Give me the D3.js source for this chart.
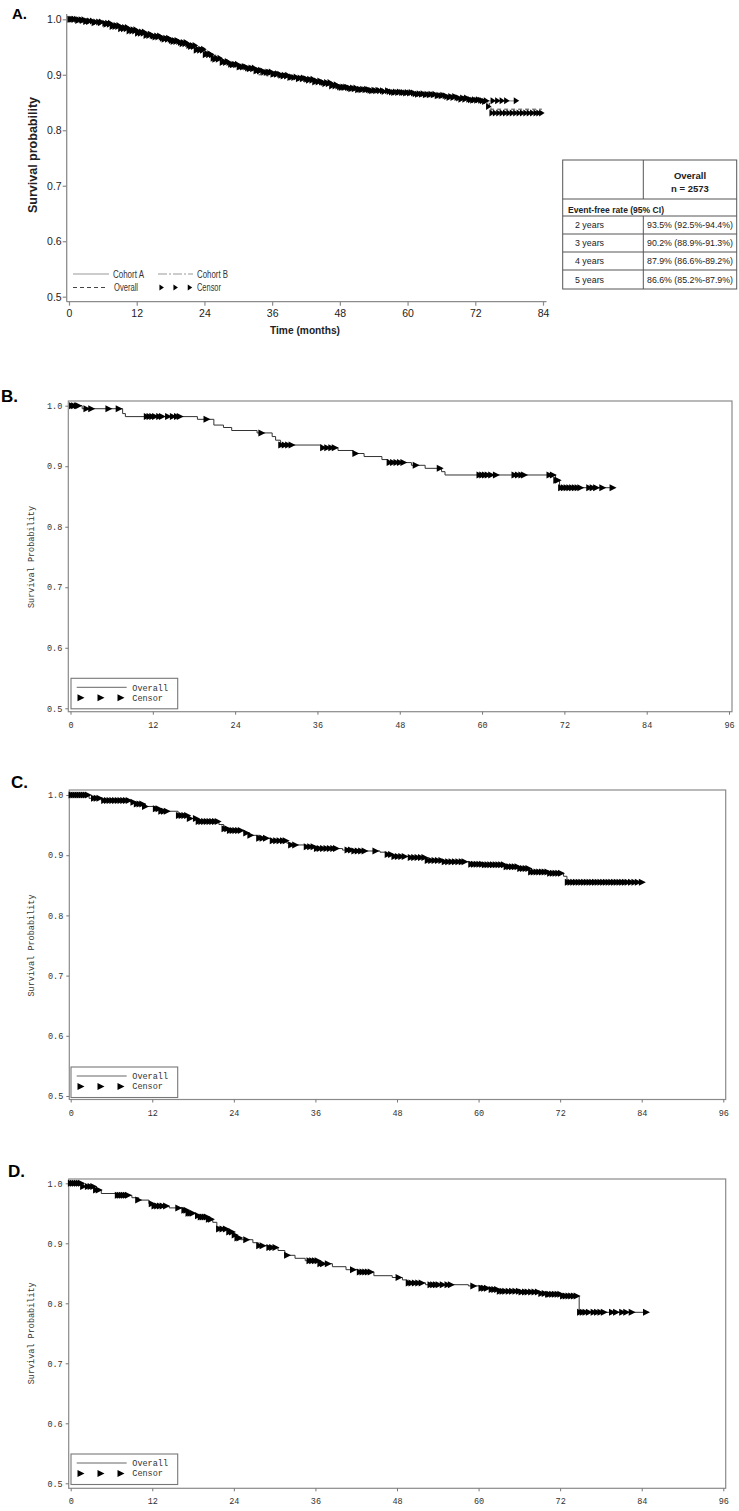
<!DOCTYPE html>
<html>
<head>
<meta charset="utf-8">
<script src="https://cdn.jsdelivr.net/npm/d3@7"></script>
<style>
  body { margin: 0; background: #fff; }
</style>
</head>
<body>
<svg id="fig" width="739" height="1511"></svg>
<script>
// ---- data ----

const yTicks = [0.5, 0.6, 0.7, 0.8, 0.9, 1.0];
const xTicksA = [0, 12, 24, 36, 48, 60, 72, 84];
const xTicksKM = [0, 12, 24, 36, 48, 60, 72, 84, 96];

// Panel A: three near-identical step curves
const cohortATimes = [0, 1.5, 3, 4.5, 6, 7.5, 9, 10.5, 12, 13.5, 15, 16.5, 18, 19.5, 21, 22.5, 24, 25.5, 27, 28.5, 30, 31.5, 33, 34.5, 36, 37.5, 39, 40.5, 42, 43.5, 45, 46.5, 48, 49.5, 51, 53, 55, 57, 59, 61, 63, 65, 67, 69, 71, 73];
const cohortASurv = [1.0, 0.999, 0.997, 0.995, 0.993, 0.989, 0.985, 0.981, 0.977, 0.973, 0.970, 0.966, 0.962, 0.958, 0.953, 0.946, 0.938, 0.930, 0.924, 0.919, 0.915, 0.912, 0.908, 0.905, 0.902, 0.899, 0.896, 0.894, 0.892, 0.889, 0.886, 0.882, 0.878, 0.876, 0.874, 0.872, 0.871, 0.869, 0.868, 0.866, 0.865, 0.863, 0.861, 0.858, 0.855, 0.853];
const cohortAEnd = 79.3;
const cohortACensor = [0.2, 0.6, 1.0, 1.4, 1.8, 2.2, 2.7, 3.2, 3.7, 4.2, 4.8, 5.3, 5.8, 6.4, 6.9, 7.4, 7.9, 8.4, 8.9, 9.4, 9.9, 10.4, 10.9, 11.4, 11.9, 12.4, 12.9, 13.4, 13.9, 14.5, 15.0, 15.6, 16.1, 16.6, 17.2, 17.7, 18.2, 18.7, 19.2, 19.8, 20.3, 20.8, 21.3, 21.9, 22.4, 22.9, 23.4, 23.9, 24.5, 25.0, 25.6, 26.2, 26.8, 27.5, 28.1, 28.7, 29.3, 29.9, 30.5, 31.1, 31.7, 32.3, 32.9, 33.5, 34.0, 34.6, 35.3, 35.9, 36.4, 37.0, 37.6, 38.2, 38.8, 39.5, 40.3, 41.0, 41.6, 42.2, 42.7, 43.3, 43.9, 44.5, 45.1, 45.7, 46.3, 46.9, 47.4, 48.0, 48.6, 49.1, 49.7, 50.3, 50.9, 51.5, 52.1, 52.8, 53.4, 54.1, 54.8, 55.6, 56.5, 57.2, 57.9, 58.6, 59.3, 60.0, 60.7, 61.4, 62.1, 62.8, 63.5, 64.2, 64.9, 65.6, 66.3, 67.0, 67.7, 68.4, 69.1, 69.8, 70.5, 71.2, 71.9, 72.6, 73.3, 74.0, 75.2, 76.0, 76.8, 77.6, 79.3];

const cohortBTimes = [0, 1.2, 2.8, 4.4, 6.2, 7.6, 9.2, 10.6, 12.2, 13.6, 15.2, 16.6, 18.2, 19.6, 21.2, 22.6, 24.2, 25.6, 27.2, 28.6, 30.2, 31.6, 33.2, 34.6, 36.2, 37.6, 39.2, 40.6, 42.2, 43.6, 45.2, 46.6, 48.2, 49.6, 51.2, 53.2, 55.2, 57.2, 59.2, 61.2, 63.2, 65.2, 67.2, 69.2, 71.2, 73.2, 74.2, 74.8];
const cohortBSurv = [1.0, 0.998, 0.996, 0.994, 0.991, 0.987, 0.983, 0.979, 0.975, 0.971, 0.968, 0.964, 0.960, 0.956, 0.951, 0.944, 0.936, 0.928, 0.922, 0.918, 0.914, 0.911, 0.907, 0.904, 0.901, 0.898, 0.895, 0.893, 0.890, 0.887, 0.884, 0.880, 0.877, 0.875, 0.873, 0.871, 0.870, 0.868, 0.867, 0.865, 0.864, 0.862, 0.859, 0.856, 0.854, 0.852, 0.843, 0.831];
const cohortBEnd = 83.8;
const cohortBCensor = [0.4, 0.9, 1.6, 2.4, 3.0, 3.5, 4.5, 5.6, 6.6, 7.2, 7.7, 8.2, 8.7, 9.2, 9.7, 10.2, 10.7, 11.2, 11.7, 12.2, 12.7, 13.2, 13.7, 14.2, 14.8, 15.3, 15.8, 16.4, 16.9, 17.5, 18.0, 18.5, 19.0, 19.5, 20.1, 20.6, 21.1, 21.6, 22.1, 22.6, 23.2, 23.7, 24.2, 24.8, 25.3, 25.9, 26.5, 27.2, 27.8, 28.4, 29.0, 29.6, 30.2, 30.8, 31.4, 32.0, 32.6, 33.2, 33.8, 34.4, 35.0, 35.6, 36.2, 36.8, 37.4, 38.0, 38.6, 39.2, 39.9, 40.7, 41.4, 42.0, 42.5, 43.1, 43.6, 44.2, 44.8, 45.4, 46.0, 46.6, 47.2, 47.7, 48.3, 48.8, 49.4, 50.0, 50.6, 51.2, 51.8, 52.5, 53.1, 53.7, 54.4, 55.1, 55.9, 56.8, 57.6, 58.3, 59.0, 59.7, 60.4, 61.1, 61.8, 62.5, 63.2, 63.9, 64.6, 65.3, 66.0, 66.7, 67.4, 68.1, 68.8, 69.5, 70.2, 70.9, 71.6, 72.3, 73.0, 73.7, 74.4, 75.0, 75.6, 76.2, 76.8, 77.4, 78.0, 78.6, 79.2, 79.8, 80.4, 81.0, 81.6, 82.2, 82.8, 83.3, 83.8];

const overallATimes = [0, 2, 4, 6, 8, 10, 12, 14, 16, 18, 20, 22, 24, 26, 28, 30, 32, 33.5, 35, 37, 39, 41, 43, 44.5, 46, 48, 50, 52, 55, 58, 61, 64, 67, 70, 72.5, 74.5];
const overallASurv = [1.0, 0.998, 0.995, 0.992, 0.988, 0.983, 0.977, 0.972, 0.967, 0.961, 0.955, 0.948, 0.937, 0.927, 0.920, 0.914, 0.909, 0.900, 0.898, 0.896, 0.894, 0.891, 0.888, 0.883, 0.880, 0.877, 0.874, 0.872, 0.870, 0.868, 0.866, 0.864, 0.861, 0.857, 0.853, 0.838];
const overallAEnd = 83.8;

// Event-free rate table
const tableHeader = ["Overall", "n = 2573"];
const tableSection = "Event-free rate (95% CI)";
const tableYears = ["2 years", "3 years", "4 years", "5 years"];
const tableRates = ["93.5% (92.5%-94.4%)", "90.2% (88.9%-91.3%)", "87.9% (86.6%-89.2%)", "86.6% (85.2%-87.9%)"];

// Panel B
const bTimes = [0, 1.7, 7.6, 8.0, 18.5, 20.9, 22.3, 23.5, 27.2, 29.4, 29.9, 30.6, 36.6, 39.0, 41.2, 42.8, 45.4, 46.3, 49.7, 51.7, 54.1, 54.6, 70.7, 71.3];
const bSurv = [1.0, 0.995, 0.987, 0.982, 0.9775, 0.968, 0.964, 0.959, 0.955, 0.949, 0.943, 0.935, 0.9305, 0.926, 0.921, 0.916, 0.911, 0.906, 0.9015, 0.8965, 0.891, 0.8855, 0.877, 0.8645];
const bEnd = 79.1;
const bCensor = [0.3, 0.6, 1.0, 1.2, 2.4, 3.1, 5.6, 7.1, 11.2, 11.6, 12.0, 12.4, 13.0, 13.4, 14.3, 15.0, 15.6, 16.0, 19.9, 27.9, 30.8, 31.3, 31.8, 32.3, 36.9, 37.5, 38.1, 38.6, 41.6, 46.6, 47.1, 47.6, 48.1, 48.6, 50.4, 53.9, 59.7, 60.1, 60.5, 60.9, 61.4, 62.1, 64.8, 65.3, 65.8, 66.2, 69.9, 70.4, 70.9, 71.1, 71.6, 72.0, 72.4, 72.8, 73.2, 73.6, 74.0, 74.4, 75.7, 76.2, 76.7, 77.6, 79.1];

// Panel C
const cTimes = [0, 2.7, 4.5, 8.8, 9.7, 11.0, 12.5, 13.2, 15.8, 17.5, 18.8, 21.8, 22.5, 23.2, 25.5, 26.3, 27.8, 29.5, 31.8, 32.5, 34.5, 36.0, 40.0, 41.5, 45.5, 46.5, 47.5, 50.0, 52.5, 55.0, 58.8, 61.0, 64.2, 66.0, 67.8, 70.5, 72.5, 73.0];
const cSurv = [1.0, 0.9945, 0.991, 0.988, 0.985, 0.981, 0.977, 0.973, 0.966, 0.961, 0.956, 0.951, 0.944, 0.941, 0.937, 0.933, 0.928, 0.924, 0.920, 0.917, 0.914, 0.911, 0.9085, 0.907, 0.905, 0.901, 0.898, 0.896, 0.891, 0.889, 0.885, 0.884, 0.881, 0.878, 0.872, 0.870, 0.865, 0.855];
const cEnd = 84.1;
const cCensor = [0.2, 0.5, 0.8, 1.1, 1.4, 1.7, 2.0, 2.3, 2.6, 3.5, 3.9, 4.3, 5.0, 5.4, 5.8, 6.2, 6.6, 7.0, 7.4, 7.8, 8.2, 8.6, 9.3, 9.8, 10.2, 10.6, 11.0, 12.6, 13.0, 13.4, 13.8, 14.2, 16.0, 16.4, 16.8, 17.2, 17.6, 18.5, 18.9, 19.3, 19.7, 20.1, 20.5, 20.9, 21.3, 21.7, 22.7, 23.1, 23.5, 23.9, 24.3, 24.7, 25.1, 25.9, 26.5, 27.8, 28.3, 28.8, 29.8, 30.3, 30.8, 31.3, 31.7, 32.5, 33.1, 34.8, 35.3, 35.8, 36.3, 36.7, 37.2, 37.7, 38.2, 38.7, 39.1, 40.8, 41.3, 41.8, 42.3, 42.8, 43.3, 44.9, 46.7, 47.2, 47.7, 48.2, 48.7, 49.2, 50.1, 50.6, 51.1, 51.6, 52.1, 52.6, 53.1, 53.6, 54.1, 54.6, 55.1, 55.6, 56.1, 56.6, 57.1, 57.6, 58.0, 59.0, 59.4, 59.8, 60.2, 60.6, 61.0, 61.4, 61.8, 62.2, 62.6, 63.0, 63.4, 63.8, 64.2, 64.6, 65.0, 65.4, 65.8, 66.2, 66.6, 67.0, 67.4, 67.8, 68.2, 68.6, 69.0, 69.4, 69.8, 70.2, 70.6, 71.0, 71.4, 71.8, 72.2, 73.2, 73.6, 74.0, 74.4, 74.8, 75.2, 75.6, 76.0, 76.4, 76.8, 77.2, 77.6, 78.0, 78.4, 78.8, 79.2, 79.6, 80.0, 80.4, 80.8, 81.2, 81.6, 82.0, 82.5, 83.0, 83.5, 84.1];

// Panel D
const dTimes = [0, 1.9, 3.5, 4.5, 6.8, 9.0, 10.0, 11.5, 12.2, 14.5, 16.5, 17.2, 18.5, 19.2, 20.3, 20.9, 21.5, 21.9, 23.3, 23.9, 24.4, 25.0, 26.8, 27.6, 29.0, 30.5, 31.5, 33.0, 34.5, 36.6, 38.5, 40.5, 42.2, 44.6, 47.3, 48.8, 49.5, 52.2, 58.5, 60.5, 61.6, 63.0, 66.3, 69.0, 70.3, 72.4, 74.8];
const dSurv = [1.0, 0.9945, 0.989, 0.983, 0.980, 0.976, 0.972, 0.966, 0.962, 0.959, 0.955, 0.950, 0.946, 0.944, 0.940, 0.935, 0.927, 0.924, 0.919, 0.914, 0.909, 0.906, 0.901, 0.896, 0.893, 0.888, 0.880, 0.875, 0.871, 0.866, 0.861, 0.856, 0.852, 0.846, 0.843, 0.839, 0.834, 0.831, 0.829, 0.825, 0.823, 0.820, 0.819, 0.8165, 0.815, 0.812, 0.785];
const dEnd = 84.7;
const dCensor = [0.1, 0.4, 0.7, 1.0, 1.3, 1.6, 1.9, 2.6, 3.0, 3.4, 3.8, 4.2, 7.0, 7.3, 7.6, 7.9, 8.2, 8.5, 10.0, 12.0, 12.4, 12.8, 13.2, 13.6, 14.1, 15.9, 16.8, 17.1, 17.4, 17.7, 18.0, 18.8, 19.2, 19.5, 19.8, 20.1, 20.4, 20.7, 21.9, 22.4, 22.9, 23.4, 23.8, 24.2, 24.6, 24.9, 25.9, 27.8, 28.3, 29.3, 29.7, 30.2, 31.9, 35.2, 35.6, 36.0, 36.4, 36.8, 37.2, 37.9, 41.6, 42.6, 43.0, 43.4, 43.8, 44.2, 48.3, 49.8, 50.2, 50.7, 51.2, 51.7, 53.0, 53.4, 53.8, 54.2, 54.8, 55.5, 56.0, 59.3, 60.5, 60.9, 61.3, 62.0, 62.4, 62.8, 63.2, 63.6, 64.0, 64.5, 65.0, 65.5, 66.0, 66.4, 66.9, 67.3, 67.8, 68.3, 68.8, 69.3, 69.8, 70.3, 70.5, 70.9, 71.3, 71.7, 72.1, 72.5, 72.9, 73.3, 73.7, 74.1, 74.5, 75.0, 75.4, 75.8, 76.3, 77.0, 77.5, 78.0, 78.5, 79.7, 80.3, 81.2, 81.8, 82.6, 84.7];

// ---- drawing ----

const svg = d3.select("#fig");
const MONO = "'Liberation Mono', 'Courier New', monospace";
const SANS = "'Liberation Sans', Arial, sans-serif";

function tri(w, h) {
  return `M${-w / 2},${-h / 2}L${w / 2},0L${-w / 2},${h / 2}Z`;
}

// survival value of the step function at time t
function survAt(times, surv, t) {
  const i = d3.bisectRight(times, t) - 1;
  return surv[Math.max(0, i)];
}

function drawCurve(g, x, y, times, surv, end, style) {
  const pts = times.map((t, i) => [t, surv[i]]);
  pts.push([end, surv[surv.length - 1]]);
  g.append("path").datum(pts)
    .attr("fill", "none")
    .attr("stroke", style.color)
    .attr("stroke-width", style.width)
    .attr("stroke-dasharray", style.dash || null)
    .attr("d", d3.line().x(d => x(d[0])).y(d => y(d[1])).curve(d3.curveStepAfter));
}

function drawCensors(g, x, y, times, surv, censors, w, h) {
  g.append("g").selectAll("path").data(censors).join("path")
    .attr("d", tri(w, h))
    .attr("fill", "#000")
    .attr("transform", t => `translate(${x(t)},${y(survAt(times, surv, t))})`);
}

// squeeze a text to a given width (source fonts are condensed)
function fitWidth(sel, w) {
  sel.attr("textLength", w).attr("lengthAdjust", "spacingAndGlyphs");
}

// ---------- Panel A ----------
(function panelA() {
  const g = svg.append("g");
  const x = d3.scaleLinear().domain([0, 84]).range([69, 543]);
  const y = d3.scaleLinear().domain([0.5, 1]).range([296.7, 19.3]);
  const axisLeftX = 66.7, axisY = 301.7;

  g.append("text").text("A.").attr("x", 12).attr("y", 19)
    .attr("font-family", SANS).attr("font-weight", "bold").attr("font-size", "15px");

  g.append("line").attr("x1", axisLeftX).attr("x2", axisLeftX).attr("y1", 14).attr("y2", axisY)
    .attr("stroke", "#8c8c8c").attr("stroke-width", 1.3);
  g.append("line").attr("x1", axisLeftX).attr("x2", 546.5).attr("y1", axisY).attr("y2", axisY)
    .attr("stroke", "#8c8c8c").attr("stroke-width", 1.3);

  const ya = g.append("g").attr("transform", `translate(${axisLeftX},0)`)
    .call(d3.axisLeft(y).tickValues(yTicks).tickFormat(d3.format(".1f")).tickSize(4).tickPadding(1));
  const xa = g.append("g").attr("transform", `translate(0,${axisY})`)
    .call(d3.axisBottom(x).tickValues(xTicksA).tickSize(4).tickPadding(4));
  [ya, xa].forEach(a => {
    a.select(".domain").remove();
    a.selectAll("line").attr("stroke", "#8c8c8c").attr("stroke-width", 1.2);
    a.selectAll("text").attr("font-family", SANS).attr("font-size", "10.5px").attr("fill", "#222");
  });

  g.append("text").text("Survival probability")
    .attr("transform", `translate(37,155) rotate(-90)`)
    .attr("text-anchor", "middle").attr("font-family", SANS).attr("font-weight", "bold")
    .attr("font-size", "12px").attr("fill", "#222")
    .call(fitWidth, 116);
  g.append("text").text("Time (months)")
    .attr("x", 305).attr("y", 334).attr("text-anchor", "middle")
    .attr("font-family", SANS).attr("font-weight", "bold").attr("font-size", "11px").attr("fill", "#222")
    .call(fitWidth, 70);

  // curves
  drawCurve(g, x, y, cohortATimes, cohortASurv, cohortAEnd, { color: "#9a9a9a", width: 1.2 });
  drawCurve(g, x, y, cohortBTimes, cohortBSurv, cohortBEnd, { color: "#9a9a9a", width: 1.2, dash: "9,2,2,2" });
  drawCurve(g, x, y, overallATimes, overallASurv, overallAEnd, { color: "#444", width: 1, dash: "4,3" });
  drawCensors(g, x, y, cohortATimes, cohortASurv, cohortACensor, 5.5, 7);
  drawCensors(g, x, y, cohortBTimes, cohortBSurv, cohortBCensor, 5.5, 7);

  // legend
  const lg = g.append("g").attr("font-family", SANS).attr("font-size", "10px").attr("fill", "#333");
  lg.append("line").attr("x1", 73).attr("x2", 109).attr("y1", 274).attr("y2", 274)
    .attr("stroke", "#9a9a9a").attr("stroke-width", 1.2);
  lg.append("text").text("Cohort A").attr("x", 113).attr("y", 277.5).call(fitWidth, 31);
  lg.append("line").attr("x1", 158).attr("x2", 193).attr("y1", 274).attr("y2", 274)
    .attr("stroke", "#9a9a9a").attr("stroke-width", 1.2).attr("stroke-dasharray", "9,2,2,2");
  lg.append("text").text("Cohort B").attr("x", 197).attr("y", 277.5).call(fitWidth, 31);
  lg.append("line").attr("x1", 73).attr("x2", 108).attr("y1", 287.5).attr("y2", 287.5)
    .attr("stroke", "#444").attr("stroke-width", 1).attr("stroke-dasharray", "4,3");
  lg.append("text").text("Overall").attr("x", 114).attr("y", 291).call(fitWidth, 24);
  lg.selectAll("path.leg").data([161.7, 175.7, 190]).join("path").attr("class", "leg")
    .attr("d", tri(4.5, 6)).attr("fill", "#000")
    .attr("transform", d => `translate(${d},287.5)`);
  lg.append("text").text("Censor").attr("x", 197).attr("y", 291).call(fitWidth, 24);

  // table
  const tl = 562.7, tr = 736.7, tc = 643.3;
  const rows = [160, 199, 216, 234, 252, 270, 289];
  const tg = g.append("g");
  tg.append("rect").attr("x", tl).attr("y", rows[0]).attr("width", tr - tl).attr("height", rows[6] - rows[0])
    .attr("fill", "none").attr("stroke", "#555").attr("stroke-width", 1);
  rows.slice(1, 6).forEach(r => {
    tg.append("line").attr("x1", tl).attr("x2", tr).attr("y1", r).attr("y2", r)
      .attr("stroke", "#555").attr("stroke-width", 1);
  });
  tg.append("line").attr("x1", tc).attr("x2", tc).attr("y1", rows[0]).attr("y2", rows[1]).attr("stroke", "#555");
  tg.append("line").attr("x1", tc).attr("x2", tc).attr("y1", rows[2]).attr("y2", rows[6]).attr("stroke", "#555");

  const tt = tg.append("g").attr("font-family", SANS).attr("font-size", "9.5px").attr("fill", "#222");
  tt.append("text").text(tableHeader[0]).attr("x", 690).attr("y", 178.5)
    .attr("text-anchor", "middle").attr("font-weight", "bold");
  tt.append("text").text(tableHeader[1]).attr("x", 690).attr("y", 191.8)
    .attr("text-anchor", "middle").attr("font-weight", "bold");
  tt.append("text").text(tableSection).attr("x", 568).attr("y", 212.5)
    .attr("font-weight", "bold").call(fitWidth, 96);
  tableYears.forEach((lab, i) => {
    const base = (rows[i + 2] + rows[i + 3]) / 2 + 3.3;
    tt.append("text").text(lab).attr("x", 575).attr("y", base).call(fitWidth, 29);
    tt.append("text").text(tableRates[i]).attr("x", 647).attr("y", base).call(fitWidth, 86);
  });
})();

// ---------- Panels B, C, D ----------
function kmPanel(cfg, times, surv, end, censors) {
  const g = svg.append("g");
  const x = d3.scaleLinear().domain([0, 96]).range([cfg.x0, cfg.x96]);
  const y = d3.scaleLinear().domain([0.5, 1]).range([cfg.y05, cfg.y1]);

  g.append("text").text(cfg.letter).attr("x", cfg.lx).attr("y", cfg.ly)
    .attr("font-family", SANS).attr("font-weight", "bold").attr("font-size", "17px");

  g.append("rect").attr("x", cfg.left).attr("y", cfg.top)
    .attr("width", cfg.right - cfg.left).attr("height", cfg.bottom - cfg.top)
    .attr("fill", "none").attr("stroke", "#8a8a8a").attr("stroke-width", 1.2);

  const ya = g.append("g").attr("transform", `translate(${cfg.left},0)`)
    .call(d3.axisLeft(y).tickValues(yTicks).tickFormat(d3.format(".1f")).tickSize(3).tickPadding(3));
  const xa = g.append("g").attr("transform", `translate(0,${cfg.bottom})`)
    .call(d3.axisBottom(x).tickValues(xTicksKM).tickSize(3).tickPadding(7));
  [ya, xa].forEach(a => {
    a.select(".domain").remove();
    a.selectAll("line").attr("stroke", "#777");
    a.selectAll("text").attr("font-family", MONO).attr("font-size", "8.5px").attr("fill", "#333");
  });

  g.append("text").text("Survival Probability")
    .attr("transform", `translate(34,${(cfg.y1 + cfg.y05) / 2}) rotate(-90)`)
    .attr("text-anchor", "middle").attr("font-family", MONO).attr("font-size", "8.5px").attr("fill", "#333");

  drawCurve(g, x, y, times, surv, end, { color: "#333", width: 1 });
  drawCensors(g, x, y, times, surv, censors, 7, 7);

  // legend
  const L = cfg.legTop;
  const lg = g.append("g").attr("font-family", MONO).attr("font-size", "8.5px").attr("fill", "#333");
  lg.append("rect").attr("x", 71).attr("y", L).attr("width", 106.7).attr("height", 30.5)
    .attr("fill", "#fff").attr("stroke", "#777").attr("stroke-width", 1.1);
  lg.append("line").attr("x1", 76.7).attr("x2", 126.7).attr("y1", L + 9).attr("y2", L + 9)
    .attr("stroke", "#666").attr("stroke-width", 1);
  lg.append("text").text("Overall").attr("x", 132.3).attr("y", L + 12.2);
  lg.selectAll("path.leg").data([81, 101, 121]).join("path").attr("class", "leg")
    .attr("d", tri(7, 7)).attr("fill", "#000")
    .attr("transform", d => `translate(${d},${L + 19.4})`);
  lg.append("text").text("Censor").attr("x", 132.3).attr("y", L + 22.4);
}

kmPanel({ letter: "B.", lx: 1, ly: 402, x0: 70.5, x96: 729, y1: 405.7, y05: 708.3,
          left: 68.3, top: 401, right: 732, bottom: 711.7, legTop: 678.3 },
        bTimes, bSurv, bEnd, bCensor);
kmPanel({ letter: "C.", lx: 11, ly: 788, x0: 70.7, x96: 723.3, y1: 795, y05: 1096,
          left: 69.3, top: 790, right: 725.7, bottom: 1099.5, legTop: 1067 },
        cTimes, cSurv, cEnd, cCensor);
kmPanel({ letter: "D.", lx: 8, ly: 1177, x0: 70.7, x96: 723.3, y1: 1183.3, y05: 1483.3,
          left: 68.7, top: 1179, right: 725.7, bottom: 1488.3, legTop: 1454 },
        dTimes, dSurv, dEnd, dCensor);
</script>
</body>
</html>
